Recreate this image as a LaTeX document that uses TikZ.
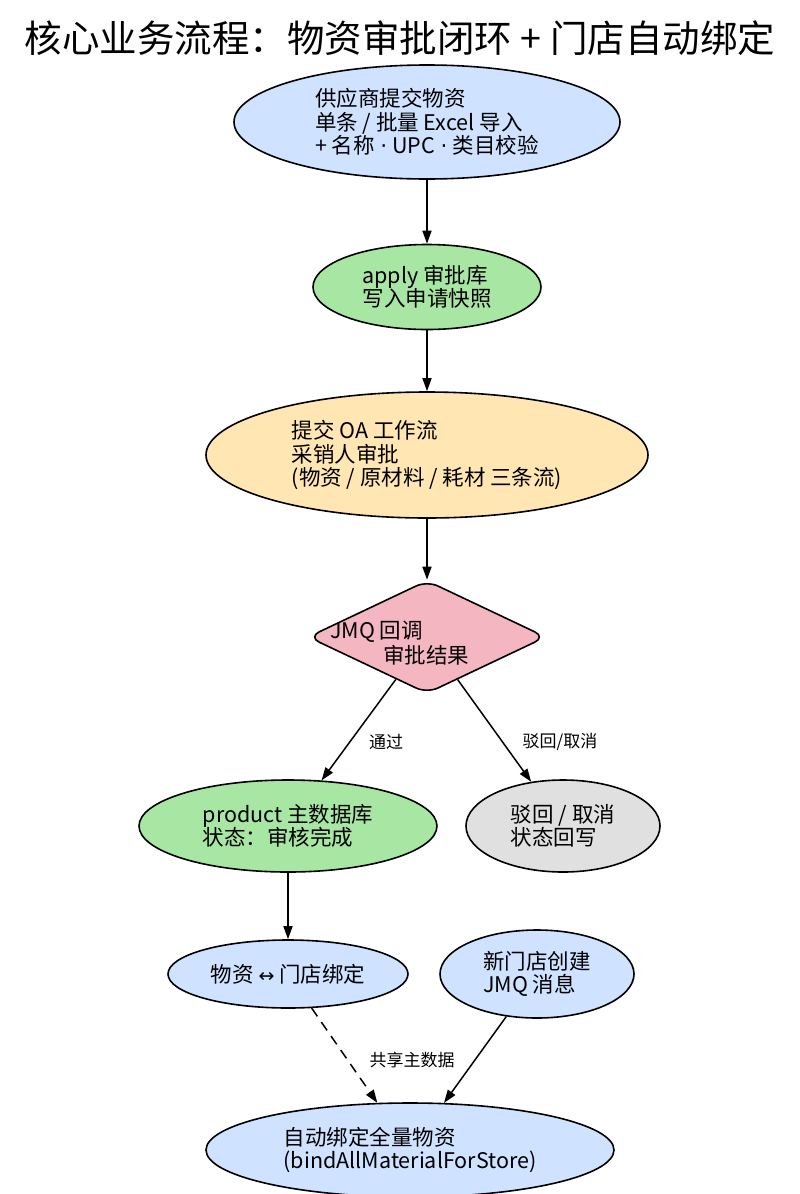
\documentclass[tikz,border=0pt]{standalone}
\usepackage{fontspec}
\setmainfont{Noto Sans CJK SC}
\newfontfamily\dejavu{DejaVu Sans}
\usetikzlibrary{shapes.geometric,arrows.meta}
\definecolor{cblue}{HTML}{CFE2FF}
\definecolor{cgreen}{HTML}{A8E6A3}
\definecolor{cyellow}{HTML}{FFE6B3}
\definecolor{cpink}{HTML}{F4B6C0}
\definecolor{cgray}{HTML}{E0E0E0}
\newcommand{\mdot}{\hspace{0.25em}{\dejavu ·}\hspace{0.25em}}
\begin{document}
\begin{tikzpicture}[x=1pt,y=-1pt,
  base/.style={draw=black, line width=1.6pt, ellipse, inner sep=0pt, align=left,
    font=\fontsize{21.5}{23.5}\selectfont},
  txt/.style={inner sep=0pt, anchor=west, font=\fontsize{21.5}{23.5}\selectfont},
  lbl/.style={inner sep=0pt, font=\fontsize{17}{19}\selectfont},
  arr/.style={line width=1.5pt, -{Triangle[length=13pt,width=9pt]}}
]
\useasboundingbox (0,0) rectangle (800,1194);
\node[inner sep=0pt, font=\fontsize{37.5}{40}\selectfont] (title) at (400,38) {核心业务流程：物资审批闭环 + 门店自动绑定};

\node[base, fill=cblue, minimum width=386, minimum height=114] (supp) at (427,122)
  {供应商提交物资\\单条 / 批量 Excel 导入\\+ 名称\mdot UPC\mdot 类目校验};
\node[base, fill=cgreen, minimum width=228, minimum height=85] (apply) at (427,287)
  {apply 审批库\\写入申请快照};
\node[base, fill=cyellow, minimum width=442, minimum height=126] (oa) at (427,455)
  {提交 OA 工作流\\采销人审批\\(物资 / 原材料 / 耗材 三条流)};
\node[draw=black, line width=1.6pt, diamond, shape aspect=2.1, minimum width=238,
  minimum height=113, inner sep=0pt, rounded corners=12pt, fill=cpink] (jmq) at (427,637) {};
\node[txt] (jmqa) at (330,632) {JMQ 回调};
\node[txt] (jmqb) at (383,655) {审批结果};
\node[base, fill=cgreen, minimum width=298, minimum height=92] (prod) at (288,826)
  {product 主数据库\\状态：审核完成};
\node[base, fill=cgray, minimum width=194, minimum height=92] (rej) at (563,826)
  {驳回 / 取消\\状态回写};
\node[base, fill=cblue, minimum width=240, minimum height=68] (bind) at (288,974)
  {物资 {\dejavu\fontsize{19}{21}\selectfont ↔} 门店绑定};
\node[base, fill=cblue, minimum width=194, minimum height=88] (newst) at (537,974)
  {新门店创建\\JMQ 消息};
\node[base, fill=cblue, minimum width=408, minimum height=94] (auto) at (410,1150)
  {自动绑定全量物资\\(bindAllMaterialForStore)};

\draw[arr] (supp) -- (apply);
\draw[arr] (apply) -- (oa);
\draw[arr] (oa) -- (jmq);
\draw[arr] (jmq) -- (prod);
\draw[arr] (jmq) -- (rej);
\draw[arr] (prod) -- (bind);
\draw[arr, dashed, dash pattern=on 10pt off 7pt] (bind) -- (auto);
\draw[arr] (newst) -- (auto);

\node[lbl] (lpass) at (386,742) {通过};
\node[lbl] (lrej) at (560,742) {驳回/取消};
\node[lbl] (lshare) at (412,1060) {共享主数据};
\end{tikzpicture}
\end{document}
